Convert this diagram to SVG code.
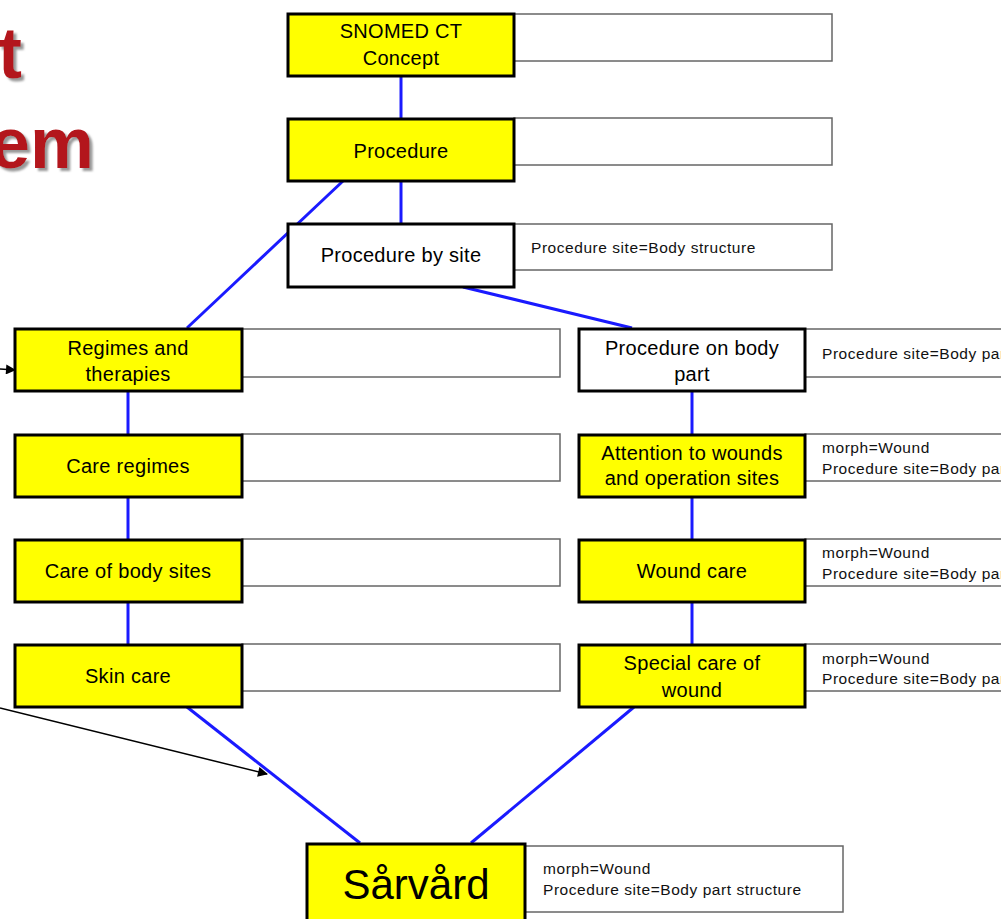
<svg xmlns="http://www.w3.org/2000/svg" width="1001" height="919" viewBox="0 0 1001 919">
<style>
.n{stroke:#000;stroke-width:3}
.y{fill:#ffff00}
.w{fill:#fff}
.s{fill:#fff;stroke:#666;stroke-width:1.5}
.t{font-family:"Liberation Sans",Arial,sans-serif;font-size:20px;letter-spacing:0.3px;fill:#000;text-anchor:middle}
.a{font-family:"Liberation Sans",Arial,sans-serif;font-size:15.5px;letter-spacing:0.55px;fill:#111}
.c{stroke:#1a1aff;stroke-width:3;fill:none}
.k{stroke:#000;stroke-width:1.5;fill:none;marker-end:url(#ah)}
.r{font-family:"Liberation Sans",Arial,sans-serif;font-size:72px;font-weight:bold;fill:#b3141a;filter:url(#sh)}
</style>
<defs>
<marker id="ah" viewBox="0 0 10 10" refX="9" refY="5" markerWidth="11" markerHeight="10" orient="auto" markerUnits="userSpaceOnUse">
<path d="M0,0 L10,5 L0,10 z" fill="#000"/>
</marker>
<filter id="sh" x="-20%" y="-20%" width="140%" height="140%">
<feDropShadow dx="3" dy="3" stdDeviation="0.8" flood-color="#999" flood-opacity="1"/>
</filter>
</defs>
<rect width="1001" height="919" fill="#fff"/>
<g id="title">
<text class="r" x="22" y="78" text-anchor="end">t</text>
<text class="r" x="94" y="168" text-anchor="end">em</text>
</g>
<g id="connectors">
<line class="c" x1="401" y1="76" x2="401" y2="119"/>
<line class="c" x1="401" y1="181" x2="401" y2="223"/>
<line class="c" x1="343" y1="181" x2="187" y2="328"/>
<line class="c" x1="463" y1="287" x2="632" y2="328"/>
<line class="c" x1="128" y1="391" x2="128" y2="434"/>
<line class="c" x1="128" y1="497" x2="128" y2="539"/>
<line class="c" x1="128" y1="602" x2="128" y2="644"/>
<line class="c" x1="692" y1="391" x2="692" y2="434"/>
<line class="c" x1="692" y1="497" x2="692" y2="539"/>
<line class="c" x1="692" y1="602" x2="692" y2="644"/>
<line class="c" x1="187" y1="707" x2="360" y2="843"/>
<line class="c" x1="634" y1="707" x2="471" y2="843"/>
<line class="k" x1="0" y1="369" x2="15" y2="370"/>
<line class="k" x1="0" y1="708" x2="267" y2="774"/>
</g>
<g id="snomed">
<rect class="s" x="514" y="14" width="318" height="47"/>
<rect class="n y" x="288" y="14" width="226" height="62"/>
<text class="t" x="401" y="38">SNOMED CT</text>
<text class="t" x="401" y="65">Concept</text>
</g>
<g id="procedure">
<rect class="s" x="514" y="118" width="318" height="47"/>
<rect class="n y" x="288" y="119" width="226" height="62"/>
<text class="t" x="401" y="158">Procedure</text>
</g>
<g id="procedure-by-site">
<rect class="s" x="514" y="224" width="318" height="46"/>
<rect class="n w" x="288" y="224" width="226" height="63"/>
<text class="t" x="401" y="262">Procedure by site</text>
<text class="a" x="531" y="253">Procedure site=Body structure</text>
</g>
<g id="regimes">
<rect class="s" x="242" y="329" width="318" height="48"/>
<rect class="n y" x="15" y="329" width="227" height="62"/>
<text class="t" x="128" y="355">Regimes and</text>
<text class="t" x="128" y="381">therapies</text>
</g>
<g id="care-regimes">
<rect class="s" x="242" y="434" width="318" height="47"/>
<rect class="n y" x="15" y="435" width="227" height="62"/>
<text class="t" x="128" y="473">Care regimes</text>
</g>
<g id="care-body-sites">
<rect class="s" x="242" y="539" width="318" height="47"/>
<rect class="n y" x="15" y="540" width="227" height="62"/>
<text class="t" x="128" y="578">Care of body sites</text>
</g>
<g id="skin-care">
<rect class="s" x="242" y="644" width="318" height="47"/>
<rect class="n y" x="15" y="645" width="227" height="62"/>
<text class="t" x="128" y="683">Skin care</text>
</g>
<g id="procedure-body-part">
<rect class="s" x="805" y="329" width="220" height="48"/>
<rect class="n w" x="579" y="329" width="226" height="62"/>
<text class="t" x="692" y="355">Procedure on body</text>
<text class="t" x="692" y="381">part</text>
<text class="a" x="822" y="359">Procedure site=Body part structure</text>
</g>
<g id="attention">
<rect class="s" x="805" y="434" width="220" height="47"/>
<rect class="n y" x="579" y="435" width="226" height="62"/>
<text class="t" x="692" y="460">Attention to wounds</text>
<text class="t" x="692" y="485">and operation sites</text>
<text class="a" x="822" y="453">morph=Wound</text>
<text class="a" x="822" y="474">Procedure site=Body part structure</text>
</g>
<g id="wound-care">
<rect class="s" x="805" y="539" width="220" height="47"/>
<rect class="n y" x="579" y="540" width="226" height="62"/>
<text class="t" x="692" y="578">Wound care</text>
<text class="a" x="822" y="558">morph=Wound</text>
<text class="a" x="822" y="579">Procedure site=Body part structure</text>
</g>
<g id="special-care">
<rect class="s" x="805" y="644" width="220" height="47"/>
<rect class="n y" x="579" y="645" width="226" height="62"/>
<text class="t" x="692" y="670">Special care of</text>
<text class="t" x="692" y="697">wound</text>
<text class="a" x="822" y="664">morph=Wound</text>
<text class="a" x="822" y="684">Procedure site=Body part structure</text>
</g>
<g id="sarvard">
<rect class="s" x="525" y="846" width="318" height="66"/>
<rect class="n y" x="307" y="844" width="218" height="80"/>
<text class="t" x="416" y="899" style="font-size:42px;letter-spacing:0">Sårvård</text>
<text class="a" x="543" y="874">morph=Wound</text>
<text class="a" x="543" y="895">Procedure site=Body part structure</text>
</g>
</svg>
